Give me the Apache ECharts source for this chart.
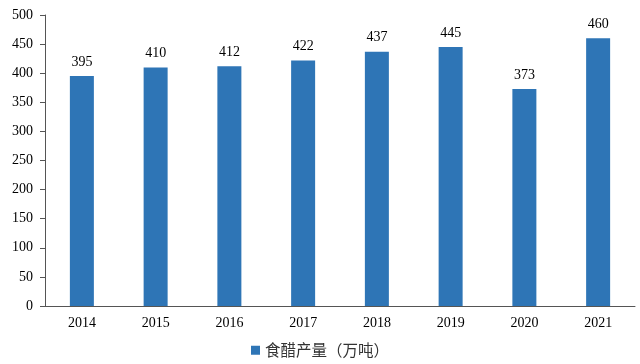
<!DOCTYPE html>
<html><head><meta charset="utf-8">
<script src="https://cdn.jsdelivr.net/npm/echarts@6/dist/echarts.min.js"></script>
<style>html,body{margin:0;padding:0;background:#fff}#c{width:640px;height:364px}</style>
</head><body><div id="c"></div>
<script>
const categories = ['2014','2015','2016','2017','2018','2019','2020','2021'];
const values = [395,410,412,422,437,445,373,460];
const seriesName = '食醋产量（万吨）';
const chart = echarts.init(document.getElementById('c'));
chart.setOption({
  animation:false,
  grid:{left:45,right:5,top:15,bottom:58},
  legend:{bottom:1,left:'center',itemWidth:9,itemHeight:9,itemGap:10,icon:'rect',
    textStyle:{fontFamily:'Noto Sans CJK SC',fontSize:15.5,color:'#333'},data:[seriesName]},
  xAxis:{type:'category',data:categories,
    axisLine:{lineStyle:{color:'#555',width:1}},axisTick:{show:false},
    axisLabel:{fontFamily:'Liberation Serif',fontSize:14,color:'#000',margin:10}},
  yAxis:{type:'value',min:0,max:500,interval:50,
    axisLine:{show:true,lineStyle:{color:'#555',width:1}},
    axisTick:{show:true,length:5,lineStyle:{color:'#555'}},
    splitLine:{show:false},
    axisLabel:{fontFamily:'Liberation Serif',fontSize:14,color:'#000',margin:12}},
  series:[{name:seriesName,type:'bar',data:values,barWidth:24,
    itemStyle:{color:'#2E75B6'},
    label:{show:true,position:'top',distance:7,fontFamily:'Liberation Serif',fontSize:14,color:'#000'}}]
});
</script></body></html>
